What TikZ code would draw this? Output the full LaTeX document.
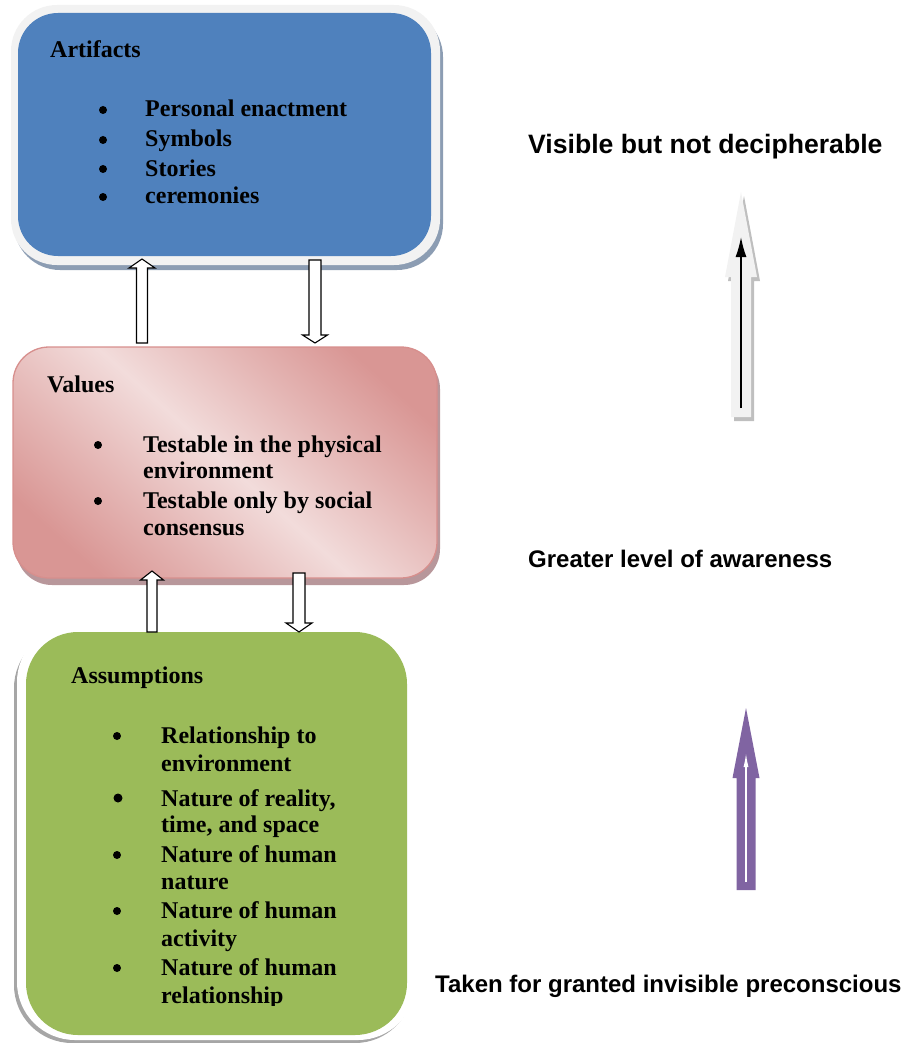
\documentclass[tikz,border=0pt]{standalone}
\usepackage{fontspec}
\setmainfont{Liberation Serif}
\newfontfamily\labelfont{Liberation Sans}
\usetikzlibrary{arrows.meta}
\definecolor{artblue}{HTML}{4F81BD}
\definecolor{artborder}{HTML}{F2F2F2}
\definecolor{artshadow}{HTML}{8C9DB3}
\definecolor{pinkdark}{HTML}{D99694}
\definecolor{pinklight}{HTML}{F2DCDB}
\definecolor{pinkedge}{HTML}{D78F8D}
\definecolor{pinkshadow}{HTML}{B8979B}
\definecolor{assgreen}{HTML}{9BBB59}
\definecolor{greyshadow}{HTML}{A6A6A6}
\definecolor{arrowgrey}{HTML}{F2F2F2}
\definecolor{arrowshadow}{HTML}{BFBFBF}
\definecolor{arrowpurple}{HTML}{8064A2}
\pgfdeclareverticalshading{pinkdiag}{100bp}{color(0bp)=(pinkdark); color(24bp)=(pinkdark); color(36bp)=(pinkdark!55!pinklight); color(50bp)=(pinklight); color(64bp)=(pinkdark!55!pinklight); color(76bp)=(pinkdark); color(100bp)=(pinkdark)}
\newcommand{\uparrowshape}[7]{% #1 style, #2 x, #3 tip, #4 head base, #5 bottom, #6 shaft half, #7 head half
  \path[#1] (#2,#3) -- ({#2+#7},#4) -- ({#2+#6},#4) -- ({#2+#6},#5) -- ({#2-#6},#5) -- ({#2-#6},#4) -- ({#2-#7},#4) -- cycle;}
\newcommand{\downarrowshape}[7]{% #1 style, #2 x, #3 top, #4 head base, #5 tip, #6 shaft half, #7 head half
  \path[#1] ({#2-#6},#3) -- ({#2+#6},#3) -- ({#2+#6},#4) -- ({#2+#7},#4) -- (#2,#5) -- ({#2-#7},#4) -- ({#2-#6},#4) -- cycle;}
\begin{document}
\begin{tikzpicture}[x=1pt,y=-1pt,
  boxtext/.style={anchor=base west, inner sep=0pt, font=\fontsize{24}{28}\selectfont\bfseries},
  bul/.style={circle, fill=black, inner sep=0pt, minimum size=8pt},
  sidelabel/.style={anchor=base west, inner sep=0pt, font=\labelfont\bfseries\fontsize{24}{28}\selectfont},
  hollow/.style={draw=black, fill=white, line width=1.1pt, line join=miter}]
\useasboundingbox (0,0) rectangle (903,1043);

% ---------- Artifacts box ----------
\fill[artshadow, rounded corners=46pt] (14,11) rectangle (443,270);
\fill[artborder, rounded corners=46pt] (11,5) rectangle (440,265);
\fill[artblue, rounded corners=40pt] (18,13) rectangle (431,256);
\node[boxtext] (art) at (50,58) {Artifacts};
\node[bul] (ab1) at (103,110) {};
\node[boxtext] (a1) at (145,117) {Personal enactment};
\node[bul] (ab2) at (103,140) {};
\node[boxtext] (a2) at (145,147) {Symbols};
\node[bul] (ab3) at (103,169) {};
\node[boxtext] (a3) at (145,176) {Stories};
\node[bul] (ab4) at (103,197) {};
\node[boxtext] (a4) at (145,204) {ceremonies};

% ---------- Values box ----------
\fill[pinkshadow, rounded corners=36pt] (16,353) rectangle (440,585);
\shade[rounded corners=36pt, shading=pinkdiag, shading angle=-42] (13,347) rectangle (437,578);
\draw[pinkedge, line width=1.3pt, rounded corners=36pt] (13,347) rectangle (437,578);
\node[boxtext] (val) at (47,392) {Values};
\node[bul] (vb1) at (98,445) {};
\node[boxtext] (v1) at (143,452) {Testable in the physical};
\node[boxtext] (v2) at (143,478) {environment};
\node[bul] (vb2) at (98,501) {};
\node[boxtext] (v3) at (143,508) {Testable only by social};
\node[boxtext] (v4) at (143,535) {consensus};

% ---------- Assumptions box ----------
\fill[greyshadow, rounded corners=58pt] (14,630) rectangle (413,1043);
\fill[white, rounded corners=58pt] (17,624) rectangle (416,1040);
\fill[assgreen, rounded corners=52pt] (26,632) rectangle (407,1035);
\node[boxtext] (ass) at (71,683) {Assumptions};
\node[bul] (sb1) at (117,736) {};
\node[boxtext] (s1) at (161,743) {Relationship to};
\node[boxtext] (s2) at (161,771) {environment};
\node[bul, minimum size=9pt] (sb2) at (118,798) {};
\node[boxtext] (s3) at (161,806) {Nature of reality,};
\node[boxtext] (s4) at (161,832) {time, and space};
\node[bul] (sb3) at (117,855) {};
\node[boxtext] (s5) at (161,862) {Nature of human};
\node[boxtext] (s6) at (161,889) {nature};
\node[bul] (sb4) at (117,911) {};
\node[boxtext] (s7) at (161,918) {Nature of human};
\node[boxtext] (s8) at (161,946) {activity};
\node[bul] (sb5) at (117,968) {};
\node[boxtext] (s9) at (161,975) {Nature of human};
\begin{scope}
  \clip (100,980) rectangle (400,1005);
  \node[boxtext] (s10) at (161,1003) {relationship};
\end{scope}

% ---------- hollow arrows between boxes ----------
\uparrowshape{hollow}{142}{259}{268}{343}{5.5}{13}
\downarrowshape{hollow}{315}{260}{335}{343}{6}{12.5}
\uparrowshape{hollow}{152}{571}{580}{632}{5}{11.5}
\downarrowshape{hollow}{299}{573}{623}{632}{6}{13}

% ---------- right side arrows ----------
\uparrowshape{fill=arrowshadow}{744}{196}{281}{421}{10}{16}
\uparrowshape{fill=arrowgrey}{741}{192}{277}{417}{10}{16}
\coordinate (gb) at (741,408);
\coordinate (gt) at (741,237);
\draw[line width=1.6pt, -{Latex[length=20pt,width=11pt]}] (gb) -- (gt);

\uparrowshape{fill=arrowpurple}{746}{708}{778}{890}{9.5}{13.5}
\coordinate (pb) at (746,882);
\coordinate (pt) at (746,753);
\draw[white, line width=1.3pt, -{Latex[length=14pt,width=5pt]}] (pb) -- (pt);

% ---------- side labels ----------
\node[sidelabel, font=\labelfont\bfseries\fontsize{26.6}{30}\selectfont] (l1) at (528,154) {Visible but not decipherable};
\node[sidelabel] (l2) at (528,567) {Greater level of awareness};
\node[sidelabel] (l3) at (435,992) {Taken for granted invisible preconscious};
\end{tikzpicture}
\end{document}
